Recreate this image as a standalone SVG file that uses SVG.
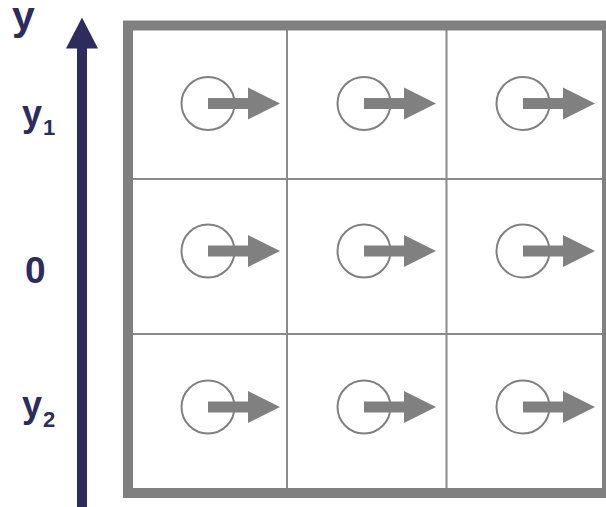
<svg xmlns="http://www.w3.org/2000/svg" width="606" height="507" viewBox="0 0 606 507">
<style>
.lbl{font-family:"Liberation Sans",Arial,sans-serif;font-weight:bold;fill:#2e2b5f}
.grid{stroke:#8a8a8a;stroke-width:2;fill:none}
.circ{stroke:#808080;stroke-width:2;fill:none}
.arr{fill:#808080}
</style>
<defs>
<g id="cellsym">
<circle class="circ" cx="0" cy="0" r="26.5"/>
<rect class="arr" x="0" y="-5.5" width="41" height="11"/>
<polygon class="arr" points="40,-16 72,0 40,16"/>
</g>
</defs>
<rect width="606" height="507" fill="#ffffff"/>
<g id="axis">
<rect x="77" y="46" width="10" height="461" fill="#2e2b5f"/>
<polygon points="82,17.5 66,48.5 98,48.5" fill="#2e2b5f"/>
</g>
<g id="labels">
<text class="lbl" x="12" y="30" font-size="41">y</text>
<text class="lbl" x="22" y="126" font-size="36">y<tspan font-size="22" dx="1" dy="9">1</tspan></text>
<text class="lbl" x="25" y="283" font-size="37">0</text>
<text class="lbl" x="22" y="417" font-size="36">y<tspan font-size="22" dx="1" dy="10">2</tspan></text>
</g>
<g id="frame">
<line class="grid" x1="287" y1="30" x2="287" y2="488"/>
<line class="grid" x1="446.5" y1="30" x2="446.5" y2="488"/>
<line class="grid" x1="133" y1="179" x2="602" y2="179"/>
<line class="grid" x1="133" y1="334" x2="602" y2="334"/>
<rect x="128" y="25.5" width="479" height="467.5" fill="none" stroke="#808080" stroke-width="10"/>
</g>
<g id="n11"><use href="#cellsym" x="208" y="103.5"/></g>
<g id="n12"><use href="#cellsym" x="364" y="103.5"/></g>
<g id="n13"><use href="#cellsym" x="523" y="103.5"/></g>
<g id="n21"><use href="#cellsym" x="208" y="251"/></g>
<g id="n22"><use href="#cellsym" x="364" y="251"/></g>
<g id="n23"><use href="#cellsym" x="523" y="251"/></g>
<g id="n31"><use href="#cellsym" x="208" y="407"/></g>
<g id="n32"><use href="#cellsym" x="364" y="407"/></g>
<g id="n33"><use href="#cellsym" x="523" y="407"/></g>
</svg>
